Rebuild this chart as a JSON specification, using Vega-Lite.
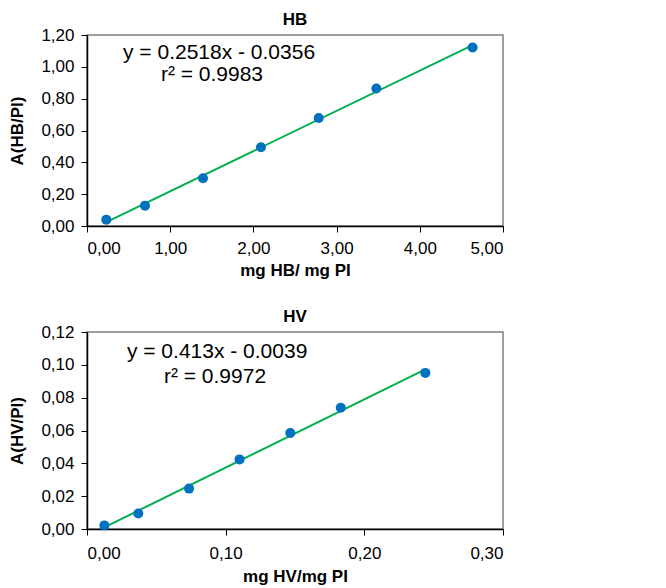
{
  "$schema": "https://vega.github.io/schema/vega-lite/v6.json",
  "padding": {"left": 8, "top": 10, "right": 5, "bottom": 0},
  "background": "white",
  "config": {
    "locale": {"number": {"decimal": ",", "thousands": ".", "grouping": [3], "currency": ["", " €"]}},
    "font": "Liberation Sans",
    "view": {"stroke": "#808080", "strokeWidth": 1.5},
    "axis": {
      "grid": false, "domainColor": "black", "domainWidth": 1.5, "tickColor": "black", "tickSize": 6,
      "labelFont": "Liberation Sans", "labelFontSize": 17, "labelColor": "black",
      "titleFont": "Liberation Sans", "titleFontSize": 17, "titleFontWeight": "bold", "titleColor": "black"
    },
    "title": {"font": "Liberation Sans", "fontSize": 17, "fontWeight": "bold", "color": "black", "offset": -3},
    "concat": {"spacing": 28}
  },
  "datasets": {
    "hb": [
      {"x": 0.232, "y": 0.040}, {"x": 0.697, "y": 0.128}, {"x": 1.394, "y": 0.300},
      {"x": 2.091, "y": 0.495}, {"x": 2.785, "y": 0.679}, {"x": 3.478, "y": 0.864}, {"x": 4.635, "y": 1.122}
    ],
    "hv": [
      {"x": 0.0125, "y": 0.0022}, {"x": 0.037, "y": 0.0094}, {"x": 0.0736, "y": 0.0246},
      {"x": 0.110, "y": 0.0424}, {"x": 0.1466, "y": 0.0585}, {"x": 0.183, "y": 0.0739}, {"x": 0.244, "y": 0.0951}
    ]
  },
  "vconcat": [
    {
      "title": "HB",
      "width": 416, "height": 191,
      "data": {"name": "hb"},
      "encoding": {
        "x": {"field": "x", "type": "quantitative", "scale": {"domain": [0, 5], "nice": false}, "axis": {"values": [0, 1, 2, 3, 4, 5], "format": ".2f", "title": "mg HB/ mg PI", "labelPadding": 8, "titlePadding": 6}},
        "y": {"field": "y", "type": "quantitative", "scale": {"domain": [0, 1.2], "nice": false}, "axis": {"values": [0, 0.2, 0.4, 0.6, 0.8, 1.0, 1.2], "format": ".2f", "title": "A(HB/PI)", "labelPadding": 7, "titlePadding": 14}}
      },
      "layer": [
        {"transform": [{"regression": "y", "on": "x"}], "mark": {"type": "line", "color": "#00B050", "strokeWidth": 2}},
        {"mark": {"type": "circle", "color": "#0070C0", "size": 100, "opacity": 1}},
        {"transform": [{"filter": {"field": "x", "gt": 4}}],
         "mark": {"type": "text", "align": "left", "baseline": "middle", "fontSize": 21, "fontWeight": "normal", "color": "black"},
         "encoding": {"x": {"datum": 0.433}, "y": {"datum": 1.087}, "text": {"value": "y = 0.2518x - 0.0356"}}},
        {"transform": [{"filter": {"field": "x", "gt": 4}}],
         "mark": {"type": "text", "align": "center", "baseline": "middle", "fontSize": 21, "fontWeight": "normal", "color": "black"},
         "encoding": {"x": {"datum": 1.502}, "y": {"datum": 0.949}, "text": {"value": "r² = 0.9983"}}}
      ]
    },
    {
      "title": "HV",
      "width": 416, "height": 197,
      "data": {"name": "hv"},
      "encoding": {
        "x": {"field": "x", "type": "quantitative", "scale": {"domain": [0, 0.3], "nice": false}, "axis": {"values": [0, 0.1, 0.2, 0.3], "format": ".2f", "title": "mg HV/mg PI", "labelPadding": 10, "titlePadding": 7}},
        "y": {"field": "y", "type": "quantitative", "scale": {"domain": [0, 0.12], "nice": false}, "axis": {"values": [0, 0.02, 0.04, 0.06, 0.08, 0.1, 0.12], "format": ".2f", "title": "A(HV/PI)", "labelPadding": 7, "titlePadding": 14}}
      },
      "layer": [
        {"transform": [{"regression": "y", "on": "x"}], "mark": {"type": "line", "color": "#00B050", "strokeWidth": 2}},
        {"mark": {"type": "circle", "color": "#0070C0", "size": 100, "opacity": 1}},
        {"transform": [{"filter": {"field": "x", "gt": 0.2}}],
         "mark": {"type": "text", "align": "left", "baseline": "middle", "fontSize": 21, "fontWeight": "normal", "color": "black"},
         "encoding": {"x": {"datum": 0.0288}, "y": {"datum": 0.1078}, "text": {"value": "y = 0.413x - 0.0039"}}},
        {"transform": [{"filter": {"field": "x", "gt": 0.2}}],
         "mark": {"type": "text", "align": "center", "baseline": "middle", "fontSize": 21, "fontWeight": "normal", "color": "black"},
         "encoding": {"x": {"datum": 0.0923}, "y": {"datum": 0.0926}, "text": {"value": "r² = 0.9972"}}}
      ]
    }
  ]
}
